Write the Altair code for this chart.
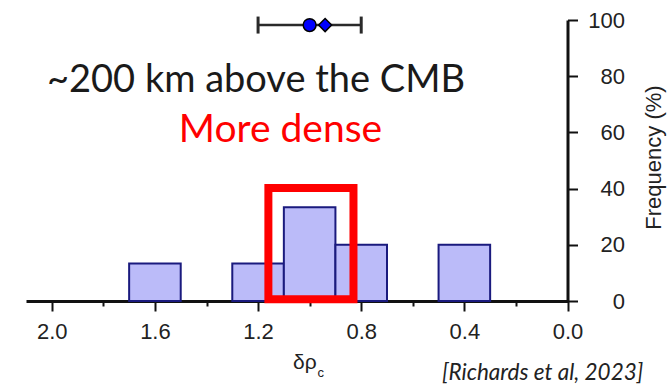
import altair as alt
import pandas as pd

# Histogram of density anomaly estimates (bins run from high to low values)
bin_start = [1.7, 1.3, 1.1, 0.9, 0.5]
bin_end = [1.5, 1.1, 0.9, 0.7, 0.3]
frequency = [13.33, 13.33, 33.33, 20.0, 20.0]

# Summary marker row: range with mean (circle) and median (diamond)
range_low = 0.8
range_high = 1.2
summary_level = 98.2
marker_x = [1.0, 0.94]
marker_shape = ["circle", "diamond"]
marker_size = [165, 170]

# Highlight box around the dominant bin
box_x = [1.16, 0.83]
box_y = [0.6, 40.2]

x_ticks = [0.0, 0.2, 0.4, 0.6, 0.8, 1.0, 1.2, 1.4, 1.6, 1.8, 2.0]
y_ticks = [0, 10, 20, 30, 40, 50, 60, 70, 80, 90, 100]

depth_label = "~200 km above the CMB"
dense_label = "More dense"
citation = "[Richards et al, 2023]"
x_title_main = "δρ"
x_title_sub = "c"
y_title = "Frequency (%)"

hist_df = pd.DataFrame({"start": bin_start, "end": bin_end,
                        "base": [0.0] * len(frequency), "freq": frequency})
range_df = pd.DataFrame({"lo": [range_low], "hi": [range_high], "level": [summary_level]})
caps_df = pd.DataFrame({"x": [range_low, range_high], "level": [summary_level] * 2})
marker_df = pd.DataFrame({"x": marker_x, "shape": marker_shape, "size": marker_size,
                          "level": [summary_level] * 2})
box_df = pd.DataFrame({"x1": [box_x[0]], "x2": [box_x[1]], "y1": [box_y[0]], "y2": [box_y[1]]})

AXIS_FONT = "Liberation Sans"
INK = "#222222"

xs = alt.Scale(domain=[0.0, 2.1], reverse=True, nice=False, zero=False)
ys = alt.Scale(domain=[0, 100], nice=False)

x_axis = alt.Axis(
    values=x_ticks,
    labelExpr="round(datum.value * 10) % 4 == 0 ? format(datum.value, '.1f') : ''",
    tickSize={"condition": {"test": "round(datum.value * 10) % 4 == 0", "value": 10}, "value": 5},
    tickWidth=2, tickColor="#111111",
    domainColor="#111111", domainWidth=3,
    labelFont=AXIS_FONT, labelFontSize=22, labelColor=INK, labelPadding=10,
    labelFlush=False, labelOverlap=False,
    grid=False, title="",
)
y_axis = alt.Axis(
    orient="right",
    values=y_ticks,
    labelExpr="datum.value % 20 == 0 ? datum.label : ''",
    tickSize={"condition": {"test": "datum.value % 20 == 0", "value": 10}, "value": 5},
    tickWidth=2, tickColor="#111111",
    domainColor="#111111", domainWidth=3,
    labelFont=AXIS_FONT, labelFontSize=22, labelColor=INK,
    labelAlign="right", labelPadding=47, labelBaseline="middle",
    labelFlush=False, labelOverlap=False,
    grid=False,
    title=y_title, titleFont=AXIS_FONT, titleFontSize=22, titleFontWeight="normal",
    titleColor=INK, titleAngle=270, titleX=86, titleY=137,
    titleAlign="center", titleBaseline="middle",
)

bars = alt.Chart(hist_df).mark_rect(
    fill="#BBBBF9", stroke="#1A1A7E", strokeWidth=2
).encode(
    x=alt.X("start:Q", scale=xs, axis=x_axis),
    x2="end:Q",
    y=alt.Y("base:Q", scale=ys, axis=y_axis),
    y2="freq:Q",
)

box = alt.Chart(box_df).mark_rect(
    fillOpacity=0, stroke="#FF0000", strokeWidth=8
).encode(x=alt.X("x1:Q", scale=xs), x2="x2:Q", y=alt.Y("y1:Q", scale=ys), y2="y2:Q")

range_rule = alt.Chart(range_df).mark_rule(color="#2A2A2A", strokeWidth=2.5).encode(
    x=alt.X("lo:Q", scale=xs), x2="hi:Q", y=alt.Y("level:Q", scale=ys)
)
caps = alt.Chart(caps_df).mark_tick(
    orient="vertical", color="#2A2A2A", thickness=3, size=17, opacity=1
).encode(x=alt.X("x:Q", scale=xs), y=alt.Y("level:Q", scale=ys))

markers = alt.Chart(marker_df).mark_point(
    filled=True, fill="#0000FF", stroke="#000000", strokeWidth=1.5, opacity=1, fillOpacity=1
).encode(
    x=alt.X("x:Q", scale=xs),
    y=alt.Y("level:Q", scale=ys),
    shape=alt.Shape("shape:N", scale=None),
    size=alt.Size("size:Q", scale=None),
)


def label(text, x, y, **style):
    return alt.Chart(pd.DataFrame({"t": [text]})).mark_text(**style).encode(
        text="t:N", x=alt.value(x), y=alt.value(y)
    )


depth_text = label(depth_label, 21, 72, font="Lato", fontSize=38, color="#1A1A1A",
                   align="left", baseline="alphabetic")
dense_text = label(dense_label, 254.5, 122, font="Lato", fontSize=39, color="#FF0000",
                   align="center", baseline="alphabetic")
cite_text = label(citation, 416, 360, font="Lato", fontSize=22.5, fontStyle="italic",
                  color=INK, align="left", baseline="alphabetic")
xt_main = label(x_title_main, 267, 349, font=AXIS_FONT, fontSize=21, color=INK,
                align="left", baseline="alphabetic")
xt_sub = label(x_title_sub, 291.5, 357, font=AXIS_FONT, fontSize=13, color=INK,
               align="left", baseline="alphabetic")

chart = alt.layer(
    bars, box, range_rule, caps, markers,
    depth_text, dense_text, cite_text, xt_main, xt_sub,
).properties(
    width=541.5, height=281,
    padding={"left": 26, "top": 20, "right": 104.5, "bottom": 83},
    autosize=alt.AutoSizeParams(type="none"),
).configure_view(strokeWidth=0)

chart.save("out.html", embed_options={"renderer": "svg", "actions": False})
